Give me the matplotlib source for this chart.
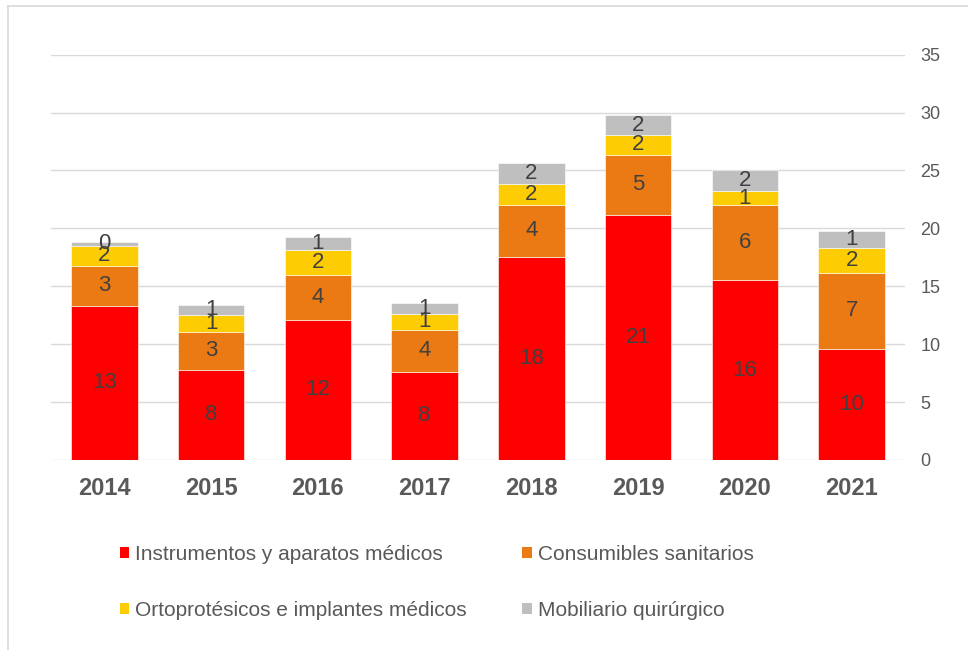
# Gráfico de barras apiladas por año y tipo de producto sanitario
import numpy as np
import matplotlib.pyplot as plt
from matplotlib.lines import Line2D
from matplotlib.patches import Patch

plt.rcParams['font.family'] = ['Liberation Sans', 'DejaVu Sans']

# Datos
anios = ['2014', '2015', '2016', '2017', '2018', '2019', '2020', '2021']
instrumentos = [13.33, 7.80, 12.12, 7.60, 17.56, 21.19, 15.54, 9.61]
consumibles = [3.45, 3.28, 3.88, 3.63, 4.45, 5.18, 6.45, 6.54]
ortoprotesicos = [1.70, 1.47, 2.16, 1.41, 1.81, 1.72, 1.27, 2.16]
mobiliario = [0.37, 0.86, 1.10, 0.92, 1.81, 1.67, 1.75, 1.44]

series = ['Instrumentos y aparatos médicos', 'Consumibles sanitarios',
          'Ortoprotésicos e implantes médicos', 'Mobiliario quirúrgico']
colores = ['#FF0000', '#EC7A14', '#FECC02', '#C0BFBF']
valores = [instrumentos, consumibles, ortoprotesicos, mobiliario]

gris_texto = '#595959'

fig = plt.figure(figsize=(9.68, 6.5), dpi=100)
ax = fig.add_axes([51 / 968, 1 - 460 / 650, (905 - 51) / 968, (460 - 54.7) / 650])

x = np.arange(len(anios))
base = np.zeros(len(anios))
for nombre, color, vals in zip(series, colores, valores):
    barras = ax.bar(x, vals, width=0.625, bottom=base, color=color, label=nombre,
                    edgecolor='white', linewidth=0.4, zorder=2)
    ax.bar_label(barras, labels=[f'{v:.0f}' for v in vals], label_type='center',
                 fontsize=16, color='#404040')
    base += np.array(vals)

# Ejes
ax.set_xlim(-0.5, len(anios) - 0.5)
ax.set_ylim(0, 35)
ax.set_yticks(range(0, 36, 5))
ax.yaxis.tick_right()
ax.set_xticks(x)
ax.set_xticklabels(anios, fontsize=17, fontweight='bold', color=gris_texto)
ax.tick_params(axis='y', length=0, pad=11, labelsize=13, labelcolor=gris_texto)
ax.tick_params(axis='x', length=0, pad=12)
ax.grid(axis='y', color='#D9D9D9', linewidth=1.0, zorder=0)
ax.set_axisbelow(True)
for lado in ax.spines.values():
    lado.set_visible(False)

# Leyenda (matplotlib llena por columnas, así que se reordena para leer por filas)
orden = [0, 2, 1, 3]
manejadores = [Patch(facecolor=colores[i], edgecolor='none') for i in orden]
etiquetas = [series[i] for i in orden]
fig.legend(manejadores, etiquetas, loc='upper left', bbox_to_anchor=(101 / 968, 1 - 526 / 650),
           ncol=2, frameon=False, fontsize=15, handlelength=0.45, handleheight=0.45,
           handletextpad=0.3, columnspacing=2.65, labelspacing=1.8, labelcolor=gris_texto)

# Borde del gráfico (solo arriba e izquierda visibles)
fig.add_artist(Line2D([8 / 968, 1], [1 - 6 / 650, 1 - 6 / 650], color='#D9D9D9', lw=1.2))
fig.add_artist(Line2D([8 / 968, 8 / 968], [0, 1 - 6 / 650], color='#D9D9D9', lw=1.2))

fig.savefig('out.png', dpi=100)
